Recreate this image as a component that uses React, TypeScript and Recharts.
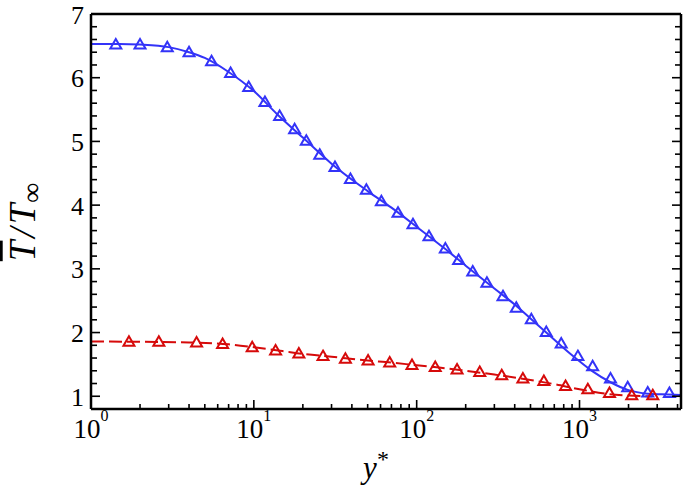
import { ComposedChart, Line, Scatter, XAxis, YAxis } from 'recharts'

// DNS mean temperature profiles, T / T_inf against y* (log axis)
const BLUE_LINE_X = [1, 1.5, 2, 3, 4, 5, 7, 10, 14, 20, 30, 50, 70, 100, 150, 200, 300, 400, 500, 625, 772, 977, 1204, 1550, 1977, 2624, 3200, 4200]
const BLUE_LINE_Y = [6.53, 6.53, 6.52, 6.48, 6.4, 6.31, 6.09, 5.79, 5.42, 5.06, 4.65, 4.22, 3.96, 3.66, 3.31, 3.05, 2.69, 2.44, 2.22, 2.0, 1.79, 1.57, 1.39, 1.22, 1.1, 1.04, 1.03, 1.02]

const BLUE_PTS_X = [1.42, 2.0, 2.94, 4.0, 5.5, 7.2, 9.3, 11.7, 14.4, 17.8, 21, 25.4, 31.5, 39.2, 49.1, 60.7, 76.8, 94.9, 119, 150, 181, 221, 270, 339, 409, 506, 625, 772, 977, 1204, 1550, 1977, 2624, 3565]
const BLUE_PTS_Y = [6.52, 6.52, 6.48, 6.4, 6.26, 6.075, 5.856, 5.62, 5.4, 5.19, 5.01, 4.79, 4.6, 4.41, 4.24, 4.06, 3.88, 3.7, 3.51, 3.32, 3.14, 2.96, 2.78, 2.57, 2.39, 2.21, 2.01, 1.83, 1.63, 1.47, 1.28, 1.14, 1.06, 1.05]

const RED_LINE_X = [1, 2, 4, 7, 10, 15, 20, 30, 50, 70, 100, 150, 200, 300, 500, 700, 1000, 1500, 2000, 2800]
const RED_LINE_Y = [1.86, 1.855, 1.845, 1.815, 1.77, 1.71, 1.665, 1.62, 1.56, 1.53, 1.485, 1.44, 1.4, 1.34, 1.255, 1.19, 1.11, 1.035, 1.01, 1.0]

const RED_PTS_X = [1.71, 2.61, 4.45, 6.43, 9.77, 13.6, 18.9, 26.6, 36.5, 50.3, 68.3, 93.6, 130, 177, 244, 333, 449, 604, 821, 1125, 1528, 2094, 2818]
const RED_PTS_Y = [1.856, 1.856, 1.845, 1.82, 1.77, 1.72, 1.67, 1.63, 1.59, 1.56, 1.53, 1.49, 1.46, 1.42, 1.38, 1.33, 1.28, 1.24, 1.16, 1.11, 1.05, 1.016, 1.016]

const X_TICKS = [1, 2, 3, 4, 5, 6, 7, 8, 9, 10, 20, 30, 40, 50, 60, 70, 80, 90, 100, 200, 300, 400, 500, 600, 700, 800, 900, 1000, 2000, 3000, 4000]
const X_MAJOR = [1, 10, 100, 1000]
const X_EXP = ['0', '1', '2', '3']
const Y_TICKS = [1, 1.2, 1.4, 1.6, 1.8, 2, 2.2, 2.4, 2.6, 2.8, 3, 3.2, 3.4, 3.6, 3.8, 4, 4.2, 4.4, 4.6, 4.8, 5, 5.2, 5.4, 5.6, 5.8, 6, 6.2, 6.4, 6.6, 6.8, 7]

const BLUE = '#3333f8'
const RED = '#d60a0a'
const FONT = '"Liberation Serif", "DejaVu Serif", serif'

const toPoints = (xs: number[], ys: number[]) => xs.map((x, i) => ({ x, y: ys[i] }))

const blueLine = toPoints(BLUE_LINE_X, BLUE_LINE_Y)
const bluePts = toPoints(BLUE_PTS_X, BLUE_PTS_Y)
const redLine = toPoints(RED_LINE_X, RED_LINE_Y)
const redPts = toPoints(RED_PTS_X, RED_PTS_Y)

const isMajorY = (v: number) => Number.isInteger(v)

function BottomTick({ x, y, payload }: any) {
  const i = X_MAJOR.indexOf(payload.value)
  const major = i >= 0
  return (
    <g>
      <line x1={x} y1={y} x2={x} y2={y - (major ? 9 : 5)} stroke="#000" strokeWidth={1.6} />
      {major && (
        <text x={x} y={y + 29} textAnchor="middle" fontFamily={FONT} fontSize={27} fill="#000">
          10
          <tspan dy={-17} fontSize={16}>{X_EXP[i]}</tspan>
        </text>
      )}
    </g>
  )
}

function TopTick({ x, y, payload }: any) {
  const major = X_MAJOR.includes(payload.value)
  return <line x1={x} y1={y} x2={x} y2={y + (major ? 9 : 5)} stroke="#000" strokeWidth={1.6} />
}

function LeftTick({ x, y, payload }: any) {
  const major = isMajorY(payload.value)
  return (
    <g>
      <line x1={x} y1={y} x2={x + (major ? 9 : 6)} y2={y} stroke="#000" strokeWidth={1.6} />
      {major && (
        <text x={x - 7} y={y + 9.5} textAnchor="end" fontFamily={FONT} fontSize={26} fill="#000">
          {payload.value}
        </text>
      )}
    </g>
  )
}

function RightTick({ x, y, payload }: any) {
  const major = isMajorY(payload.value)
  return <line x1={x} y1={y} x2={x - (major ? 9 : 6)} y2={y} stroke="#000" strokeWidth={1.6} />
}

function Triangle({ cx, cy, fill }: any) {
  if (cx == null || cy == null) return null
  return (
    <path
      d={`M${cx},${cy - 5.5} L${cx + 5.5},${cy + 4} L${cx - 5.5},${cy + 4} Z`}
      fill="none"
      stroke={fill}
      strokeWidth={2}
    />
  )
}

function XTitle() {
  return (
    <text x={376} y={478} textAnchor="middle" fontFamily={FONT} fontSize={31} fontStyle="italic" fill="#000">
      y<tspan dy={-11} fontSize={24} fontStyle="normal">*</tspan>
    </text>
  )
}

function YTitle() {
  return (
    <text
      transform="translate(35,222) rotate(-90)"
      textAnchor="middle"
      fontFamily={FONT}
      fontSize={37}
      fontStyle="italic"
      fill="#000"
    >
      <tspan style={{ textDecoration: 'overline' }}>T</tspan>
      <tspan dx={3}>/</tspan>
      <tspan dx={3}>T</tspan>
      <tspan dy={6} dx={1} fontSize={28} fontStyle="normal">∞</tspan>
    </text>
  )
}

const axisLine = { stroke: '#000', strokeWidth: 2.5 }

export default function App() {
  return (
    <div style={{ position: 'absolute', left: 0, top: 0, background: '#fff' }}>
      <ComposedChart width={685} height={492} margin={{ top: 13, right: 3, bottom: 82, left: 90 }}>
        <XAxis
          dataKey="x"
          type="number"
          scale="log"
          domain={[1, 4200]}
          allowDataOverflow
          ticks={X_TICKS}
          interval={0}
          height={1}
          tickSize={0}
          tickMargin={0}
          tickLine={false}
          axisLine={axisLine}
          tick={<BottomTick />}
          label={{ content: () => <XTitle /> }}
        />
        <XAxis
          xAxisId="top"
          orientation="top"
          type="number"
          scale="log"
          domain={[1, 4200]}
          allowDataOverflow
          ticks={X_TICKS}
          interval={0}
          height={1}
          tickSize={0}
          tickMargin={0}
          tickLine={false}
          axisLine={axisLine}
          tick={<TopTick />}
        />
        <YAxis
          dataKey="y"
          type="number"
          domain={[0.8, 7]}
          allowDataOverflow
          ticks={Y_TICKS}
          interval={0}
          width={1}
          tickSize={0}
          tickMargin={0}
          tickLine={false}
          axisLine={axisLine}
          tick={<LeftTick />}
          label={{ content: () => <YTitle /> }}
        />
        <YAxis
          yAxisId="right"
          orientation="right"
          type="number"
          domain={[0.8, 7]}
          allowDataOverflow
          ticks={Y_TICKS}
          interval={0}
          width={1}
          tickSize={0}
          tickMargin={0}
          tickLine={false}
          axisLine={axisLine}
          tick={<RightTick />}
        />
        <Line data={blueLine} dataKey="y" type="monotone" stroke={BLUE} strokeWidth={2} dot={false} isAnimationActive={false} />
        <Line data={redLine} dataKey="y" type="monotone" stroke={RED} strokeWidth={2} strokeDasharray="13 5" dot={false} isAnimationActive={false} />
        <Scatter data={bluePts} dataKey="y" fill={BLUE} shape={<Triangle />} isAnimationActive={false} />
        <Scatter data={redPts} dataKey="y" fill={RED} shape={<Triangle />} isAnimationActive={false} />
      </ComposedChart>
    </div>
  )
}
